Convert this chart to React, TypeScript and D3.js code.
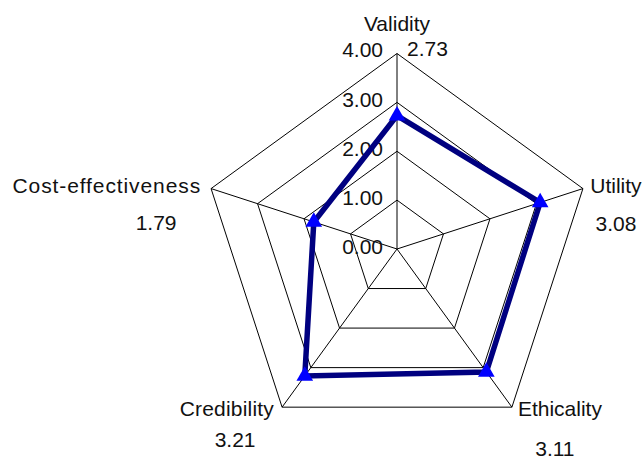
import React from "react";
import * as d3 from "d3";

// chart values
const categories = ["Validity", "Utility", "Ethicality", "Credibility", "Cost-effectiveness"];
const scores = [2.73, 3.08, 3.11, 3.21, 1.79];
const ringTicks = [0, 1, 2, 3, 4];

const width = 642;
const height = 461;
const cx = 397;
const cy = 249;
const R = 195.5;

// label placement relative to each vertex
const labelLayout = [
  { name: [0, -23], value: [10, 2], nameAnchor: "middle", valueAnchor: "start", spacing: 0 },
  { name: [33, 4], value: [33, 42], nameAnchor: "middle", valueAnchor: "middle", spacing: 0 },
  { name: [48, 9], value: [43, 49], nameAnchor: "middle", valueAnchor: "middle", spacing: 0 },
  { name: [-8, 9], value: [-47, 40], nameAnchor: "end", valueAnchor: "middle", spacing: 0.2 },
  { name: [-10, 4], value: [-55, 41], nameAnchor: "end", valueAnchor: "middle", spacing: 0.9 },
];

const App = () => {
  const rScale = d3.scaleLinear().domain([0, 4]).range([0, R]);
  const angle = (i: number) => (i * 2 * Math.PI) / categories.length;
  const pt = (i: number, v: number): [number, number] => [
    cx + rScale(v) * Math.sin(angle(i)),
    cy - rScale(v) * Math.cos(angle(i)),
  ];

  const radial = d3
    .lineRadial<number>()
    .angle((_, i) => angle(i))
    .curve(d3.curveLinearClosed);

  const ringPath = (t: number) => radial.radius(() => rScale(t))(categories.map(() => t)) || "";
  const dataPath = radial.radius((d) => rScale(d))(scores) || "";
  const tri = d3.symbol(d3.symbolTriangle, 120)() || "";

  const font = { fontFamily: "'Liberation Sans', Arial, sans-serif", fontSize: 21, fill: "#111" };

  return (
    <svg
      width={width}
      height={height}
      style={{ position: "absolute", left: 0, top: 0, background: "#fff" }}
    >
      <g transform={`translate(${cx},${cy})`}>
        {ringTicks.slice(1).map((t) => (
          <path key={t} d={ringPath(t)} fill="none" stroke="#000" strokeWidth={1} />
        ))}
      </g>
      {categories.map((c, i) => {
        const [x, y] = pt(i, 4);
        return <line key={c} x1={cx} y1={cy} x2={x} y2={y} stroke="#000" strokeWidth={1} />;
      })}
      {ringTicks.map((t) => (
        <text key={t} x={cx - 14} y={cy - rScale(t) + (t === 4 ? 3 : 5)} textAnchor="end" {...font}>
          {t.toFixed(2)}
        </text>
      ))}
      <g transform={`translate(${cx},${cy})`}>
        <path d={dataPath} fill="none" stroke="#000080" strokeWidth={5.5} strokeLinejoin="miter" />
      </g>
      {scores.map((v, i) => {
        const [x, y] = pt(i, v);
        return <path key={i} d={tri} transform={`translate(${x},${y})`} fill="#0000ff" />;
      })}
      {categories.map((c, i) => {
        const [x, y] = pt(i, 4);
        const l = labelLayout[i];
        return (
          <g key={c}>
            <text
              x={x + l.name[0]}
              y={y + l.name[1]}
              textAnchor={l.nameAnchor}
              letterSpacing={l.spacing}
              {...font}
            >
              {c}
            </text>
            <text x={x + l.value[0]} y={y + l.value[1]} textAnchor={l.valueAnchor} {...font}>
              {scores[i].toFixed(2)}
            </text>
          </g>
        );
      })}
    </svg>
  );
};

export default App;
